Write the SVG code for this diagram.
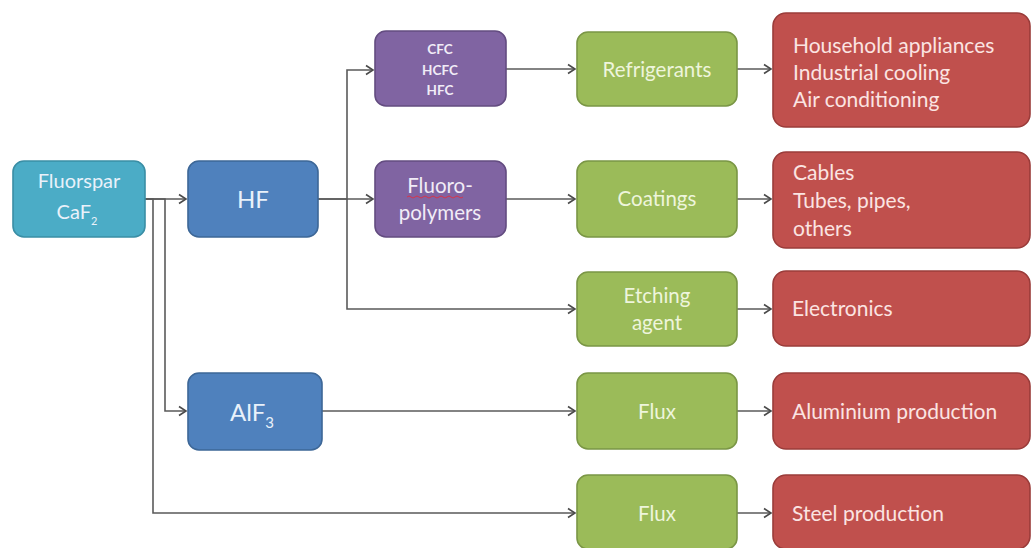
<svg xmlns="http://www.w3.org/2000/svg" width="1032" height="548" viewBox="0 0 1032 548">
<defs>
<marker id="arr" markerUnits="userSpaceOnUse" markerWidth="12" markerHeight="12" refX="9" refY="6" orient="auto">
<path d="M2,1.5 L9,6 L2,10.5" fill="none" stroke="#4a4a4a" stroke-width="1.6"/>
</marker>
<style>
.c{fill:none;stroke:#5a5a5a;stroke-width:1.6}
.box{stroke-width:1.6}
.teal{fill:#4bacc6;stroke:#3a8ea5}
.blue{fill:#4f81bd;stroke:#3d6797}
.purp{fill:#8064a2;stroke:#634c80}
.green{fill:#9bbb59;stroke:#7a9645}
.red{fill:#c0504d;stroke:#9a3c3a}
text{font-family:Lato,"Open Sans","Liberation Sans",sans-serif}
.tw{fill:#e9f1fa}
.tg{fill:#eef5dc;font-size:20.5px}
.tr{fill:#fbe4e2;font-size:21px}
.tp{fill:#f1ecf7}
</style>
</defs>
<rect width="1032" height="548" fill="#ffffff"/>
<g id="connectors">
<path class="c" d="M145,199 H186" marker-end="url(#arr)"/>
<path class="c" d="M145,199 H165 V411 H186" marker-end="url(#arr)"/>
<path class="c" d="M145,199 H153 V513 H575" marker-end="url(#arr)"/>
<path class="c" d="M318,199 H347 V70 H373" marker-end="url(#arr)"/>
<path class="c" d="M318,199 H373" marker-end="url(#arr)"/>
<path class="c" d="M347,199 V309 H575" marker-end="url(#arr)"/>
<path class="c" d="M506,69 H575" marker-end="url(#arr)"/>
<path class="c" d="M506,199 H575" marker-end="url(#arr)"/>
<path class="c" d="M322,411 H575" marker-end="url(#arr)"/>
<path class="c" d="M737,69 H771" marker-end="url(#arr)"/>
<path class="c" d="M737,199 H771" marker-end="url(#arr)"/>
<path class="c" d="M737,309 H771" marker-end="url(#arr)"/>
<path class="c" d="M737,411 H771" marker-end="url(#arr)"/>
<path class="c" d="M737,513 H771" marker-end="url(#arr)"/>
</g>
<g id="fluorspar">
<rect class="box teal" x="13" y="161" width="132" height="76" rx="11"/>
<text class="tw" x="79" y="188" font-size="20" text-anchor="middle">Fluorspar</text>
<text class="tw" x="77" y="219" font-size="20" text-anchor="middle">CaF<tspan font-size="11" dy="6">2</tspan></text>
</g>
<g id="hf">
<rect class="box blue" x="188" y="161" width="130" height="76" rx="11"/>
<text class="tw" x="253" y="208" font-size="24" text-anchor="middle">HF</text>
</g>
<g id="alf3">
<rect class="box blue" x="188" y="373" width="134" height="77" rx="11"/>
<text class="tw" x="252" y="421" font-size="24" text-anchor="middle">AlF<tspan font-size="15" dy="7">3</tspan></text>
</g>
<g id="cfc">
<rect class="box purp" x="375" y="31" width="131" height="75" rx="11"/>
<text class="tp" x="440" y="54" font-size="13.5" font-weight="bold" text-anchor="middle">CFC</text>
<text class="tp" x="440" y="75" font-size="13.5" font-weight="bold" text-anchor="middle">HCFC</text>
<text class="tp" x="440" y="95" font-size="13.5" font-weight="bold" text-anchor="middle">HFC</text>
</g>
<g id="fluoropolymers">
<rect class="box purp" x="375" y="161" width="131" height="76" rx="11"/>
<text class="tp" x="440" y="193" font-size="20.5" text-anchor="middle">Fluoro-</text>
<text class="tp" x="440" y="220" font-size="20.5" text-anchor="middle">polymers</text>
<path d="M407,197 q2,-2 4,0 t4,0 t4,0 t4,0 t4,0 t4,0 t4,0 t4,0 t4,0 t4,0 t4,0 t4,0 t4,0 t4,0" fill="none" stroke="#d8344a" stroke-width="1"/>
</g>
<g id="refrigerants">
<rect class="box green" x="577" y="32" width="160" height="74" rx="11"/>
<text class="tg" x="657" y="77" text-anchor="middle">Refrigerants</text>
</g>
<g id="coatings">
<rect class="box green" x="577" y="161" width="160" height="76" rx="11"/>
<text class="tg" x="657" y="206" text-anchor="middle">Coatings</text>
</g>
<g id="etching">
<rect class="box green" x="577" y="272" width="160" height="74" rx="11"/>
<text class="tg" x="657" y="303" text-anchor="middle">Etching</text>
<text class="tg" x="657" y="330" text-anchor="middle">agent</text>
</g>
<g id="flux1">
<rect class="box green" x="577" y="373" width="160" height="76" rx="11"/>
<text class="tg" x="657" y="419" text-anchor="middle">Flux</text>
</g>
<g id="flux2">
<rect class="box green" x="577" y="475" width="160" height="74" rx="11"/>
<text class="tg" x="657" y="521" text-anchor="middle">Flux</text>
</g>
<g id="uses-refrigerants">
<rect class="box red" x="773" y="13" width="257" height="114" rx="13"/>
<text class="tr" x="793" y="53">Household appliances</text>
<text class="tr" x="793" y="80">Industrial cooling</text>
<text class="tr" x="793" y="107">Air conditioning</text>
</g>
<g id="uses-coatings">
<rect class="box red" x="773" y="152" width="257" height="96" rx="13"/>
<text class="tr" x="793" y="180">Cables</text>
<text class="tr" x="793" y="208">Tubes, pipes,</text>
<text class="tr" x="793" y="236">others</text>
</g>
<g id="electronics">
<rect class="box red" x="773" y="271" width="257" height="75" rx="13"/>
<text class="tr" x="792" y="316">Electronics</text>
</g>
<g id="aluminium">
<rect class="box red" x="773" y="373" width="257" height="76" rx="13"/>
<text class="tr" x="792" y="419">Aluminium production</text>
</g>
<g id="steel">
<rect class="box red" x="773" y="475" width="257" height="74" rx="13"/>
<text class="tr" x="792" y="521">Steel production</text>
</g>
</svg>
